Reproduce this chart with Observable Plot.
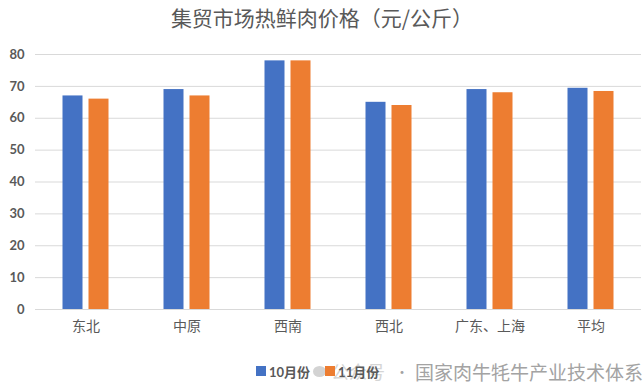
<!DOCTYPE html>
<html>
<head>
<meta charset="utf-8">
<script src="https://cdn.jsdelivr.net/npm/d3@7"></script>
<script src="https://cdn.jsdelivr.net/npm/@observablehq/plot@0.6"></script>
<style>
  html, body { margin: 0; padding: 0; background: #fff; }
  #root { position: relative; width: 644px; height: 388px; overflow: hidden; font-family: "Lato", "Noto Sans CJK SC", sans-serif; }
  #title { position: absolute; left: 0; top: 0; width: 644px; height: 34px; line-height: 34px; text-align: center;
           font-family: "Noto Sans CJK SC", sans-serif; font-size: 21px; color: #595959; }
  #chart { position: absolute; left: 0; top: 34px; }
  #legend { position: absolute; left: 256px; top: 362px; height: 18px; display: flex; align-items: center; z-index: 2;
            font-family: "Lato", "Noto Sans CJK SC", sans-serif; font-weight: bold; font-size: 13px; color: #595959; }
  #legend .sw { width: 10px; height: 10px; display: inline-block; margin-right: 3px; }
  #legend .item { display: flex; align-items: center; margin-right: 15px; }
  #wm { position: absolute; right: 1px; top: 359px; height: 24px; font-family: "Noto Sans CJK SC", sans-serif; font-size: 19px; z-index: 1;
        color: #a3a3a3; white-space: nowrap; display: flex; align-items: center; }
  #wm .ic { width: 13px; height: 11px; border-radius: 50%; background: #b5b5b5; display: inline-block; margin-right: 5px; opacity: 0.6; }
  #wm .pre { opacity: 0.45; font-size: 18px; }
  #wm .dot { margin: 0 6px 0 10px; font-size: 14px; }
</style>
</head>
<body>
<div id="root">
  <div id="title"></div>
  <div id="chart"></div>
  <div id="wm"></div>
  <div id="legend"></div>
</div>
<script>
const titleText = "集贸市场热鲜肉价格（元/公斤）";
const categories = ["东北", "中原", "西南", "西北", "广东、上海", "平均"];
const series = ["10月份", "11月份"];
const octValues = [67, 69, 78, 65, 69, 69.4];
const novValues = [66, 67, 78, 64, 68, 68.4];
const yTicks = [0, 10, 20, 30, 40, 50, 60, 70, 80];
const colors = ["#4472C4", "#ED7D31"];
const watermarkPrefix = "公众号";
const watermarkName = "国家肉牛牦牛产业技术体系";

const data = categories.flatMap((c, i) => [
  {cat: c, s: series[0], v: octValues[i]},
  {cat: c, s: series[1], v: novValues[i]}
]);

document.getElementById("title").textContent = titleText;

const chart = Plot.plot({
  width: 644,
  height: 312,
  marginTop: 20,
  marginBottom: 37,
  marginLeft: 33.5,
  marginRight: 2.5,
  style: {background: "transparent", fontFamily: "'Lato', 'Noto Sans CJK SC', sans-serif", color: "#595959"},
  fx: {domain: categories, padding: 0, label: null, axis: null},
  x: {domain: series, paddingInner: 0.222, paddingOuter: 0.987, axis: null},
  y: {domain: [0, 80], label: null, axis: null},
  color: {domain: series, range: colors},
  marks: [
    Plot.gridY(yTicks, {stroke: "#d9d9d9", strokeOpacity: 1, strokeWidth: 1}),
    Plot.axisY(yTicks, {tickSize: 0, tickPadding: 11, fontSize: 13, fontWeight: "bold", fill: "#595959", label: null}),
    Plot.axisFx({anchor: "bottom", tickSize: 0, tickPadding: 12, fontSize: 14, fill: "#595959", label: null,
                 fontFamily: "'Noto Sans CJK SC', sans-serif"}),
    Plot.barY(data, {fx: "cat", x: "s", y: "v", fill: "s"})
  ]
});
document.getElementById("chart").appendChild(chart);

const legend = document.getElementById("legend");
series.forEach((s, i) => {
  const item = document.createElement("span");
  item.className = "item";
  const sw = document.createElement("span");
  sw.className = "sw";
  sw.style.background = colors[i];
  const t = document.createElement("span");
  t.textContent = s;
  item.appendChild(sw);
  item.appendChild(t);
  legend.appendChild(item);
});

const wm = document.getElementById("wm");
const ic = document.createElement("span");
ic.className = "ic";
const pre = document.createElement("span");
pre.className = "pre";
pre.textContent = watermarkPrefix;
const dot = document.createElement("span");
dot.className = "dot";
dot.textContent = "·";
const name = document.createElement("span");
name.textContent = watermarkName;
wm.appendChild(ic);
wm.appendChild(pre);
wm.appendChild(dot);
wm.appendChild(name);
</script>
</body>
</html>
